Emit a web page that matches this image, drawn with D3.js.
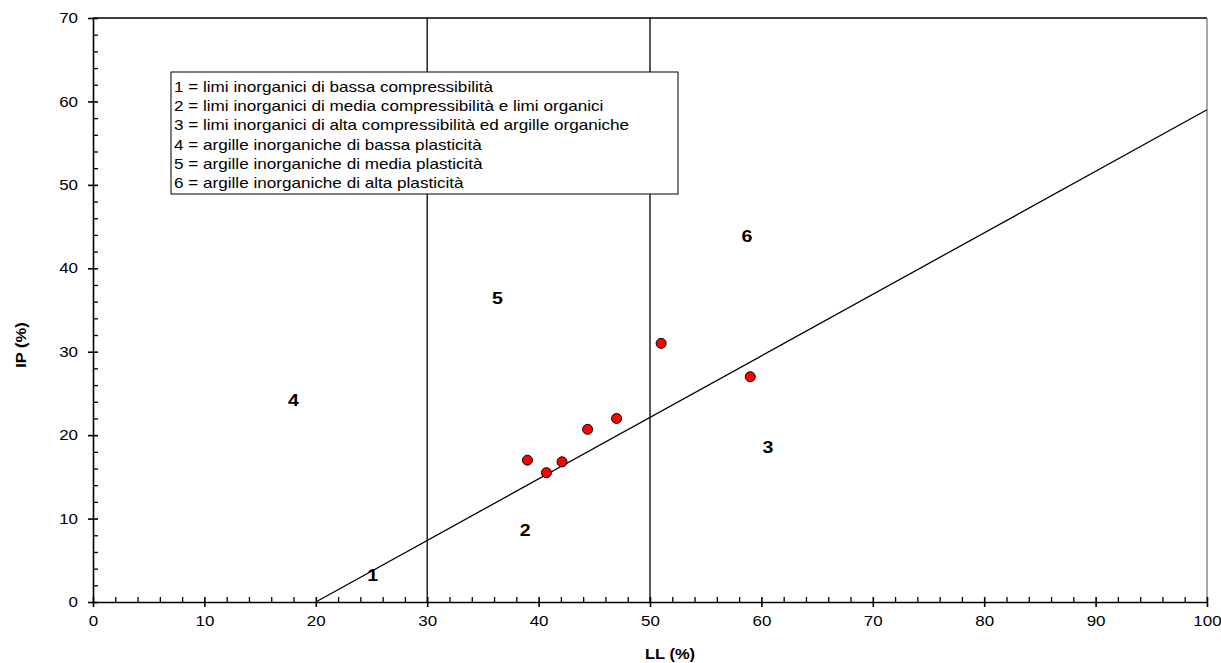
<!DOCTYPE html>
<html>
<head>
<meta charset="utf-8">
<script src="https://d3js.org/d3.v7.min.js"></script>
<style>
  body { margin: 0; background: #fff; }
  text { font-family: "Liberation Sans", Arial, sans-serif; }
</style>
</head>
<body>
<div id="chart"></div>
<script>
// data
var LL = [39, 40.7, 42.1, 44.4, 47, 51, 59];
var IP = [17, 15.5, 16.8, 20.7, 22, 31, 27];

var aLineLL = [20, 100];
var aLineIP = [0, 59];
var vLines = [30, 50];

var zoneNames = ["1", "2", "3", "4", "5", "6"];
var zoneLL = [25.1, 38.8, 60.6, 18, 36.3, 58.7];
var zoneIP = [3.2, 8.6, 18.6, 24.2, 36.4, 43.9];

var legendLines = [
  "1 = limi inorganici di bassa compressibilità",
  "2 = limi inorganici di media compressibilità e limi organici",
  "3 = limi inorganici di alta compressibilità ed argille organiche",
  "4 = argille inorganiche di bassa plasticità",
  "5 = argille inorganiche di media plasticità",
  "6 = argille inorganiche di alta plasticità"
];

var xTicks = d3.range(0, 101, 10);
var yTicks = d3.range(0, 71, 10);

var margin = {top: 18, right: 14, bottom: 61, left: 93},
    width = 1221 - margin.left - margin.right,
    height = 663 - margin.top - margin.bottom;

var svg = d3.select("#chart").append("svg")
    .attr("width", 1221)
    .attr("height", 663)
  .append("g")
    .attr("transform", "translate(" + margin.left + "," + margin.top + ")");

var x = d3.scaleLinear().domain([0, 100]).range([0, width]),
    y = d3.scaleLinear().domain([0, 70]).range([height, 0]);

// the original text is a bit wide, stretch it horizontally
function stretch(sel, k) {
  sel.each(function() {
    var L = this.getComputedTextLength();
    d3.select(this).attr("textLength", L * k).attr("lengthAdjust", "spacingAndGlyphs");
  });
}

// frame top / right
svg.append("line")
    .attr("x1", 0).attr("x2", width).attr("y1", 0).attr("y2", 0)
    .attr("stroke", "#000").attr("stroke-width", 1.3);
svg.append("line")
    .attr("x1", width).attr("x2", width).attr("y1", 0).attr("y2", height)
    .attr("stroke", "#777").attr("stroke-width", 1.3);

// vertical lines at LL=30, 50
svg.selectAll(".vline")
    .data(vLines)
    .enter().append("line")
      .attr("class", "vline")
      .attr("x1", function(d) { return x(d); })
      .attr("x2", function(d) { return x(d); })
      .attr("y1", 0).attr("y2", height)
      .attr("stroke", "#000").attr("stroke-width", 1.3);

// A line
svg.append("line")
    .attr("x1", x(aLineLL[0])).attr("y1", y(aLineIP[0]))
    .attr("x2", x(aLineLL[1])).attr("y2", y(aLineIP[1]))
    .attr("stroke", "#000").attr("stroke-width", 1.3);

// minor ticks
var minorX = d3.range(0, 101, 2).filter(function(d) { return d % 10; });
var minorY = d3.range(0, 71, 2).filter(function(d) { return d % 10; });

svg.append("g")
    .attr("class", "x-axis")
    .attr("transform", "translate(0," + height + ")")
    .call(d3.axisBottom(x).tickValues(minorX).tickSize(-5).tickFormat(""))
    .call(function(g) { g.select(".domain").remove(); });

svg.append("g")
    .attr("class", "y-axis")
    .call(d3.axisLeft(y).tickValues(minorY).tickSize(-5).tickFormat(""))
    .call(function(g) { g.select(".domain").remove(); });

svg.selectAll(".x-axis line, .y-axis line").attr("stroke-width", 1.3);

// major ticks (crossing)
var xAx = svg.append("g")
    .attr("transform", "translate(0," + height + ")")
    .call(d3.axisBottom(x).tickValues(xTicks).tickSize(5).tickSizeOuter(0).tickPadding(9));
xAx.selectAll(".tick line").attr("y1", -5).attr("stroke-width", 1.6);
xAx.select(".domain").attr("stroke-width", 1.6);
xAx.selectAll("text").attr("font-size", "14.5px").attr("fill", "#000")
    .style("font-family", "Liberation Sans, Arial, sans-serif")
    .call(stretch, 1.17);

var yAx = svg.append("g")
    .call(d3.axisLeft(y).tickValues(yTicks).tickSize(5).tickSizeOuter(0).tickPadding(10));
yAx.selectAll(".tick line").attr("x1", 5).attr("stroke-width", 1.6);
yAx.select(".domain").attr("stroke-width", 1.6);
yAx.selectAll("text").attr("font-size", "14.5px").attr("fill", "#000")
    .style("font-family", "Liberation Sans, Arial, sans-serif")
    .call(stretch, 1.17);

// points
svg.selectAll(".dot")
    .data(LL.map(function(d, i) { return [d, IP[i]]; }))
    .enter().append("circle")
      .attr("class", "dot")
      .attr("cx", function(d) { return x(d[0]); })
      .attr("cy", function(d) { return y(d[1]); })
      .attr("r", 5)
      .attr("fill", "#ff0000")
      .attr("stroke", "#000")
      .attr("stroke-width", 1);

// zone labels
svg.selectAll(".zone")
    .data(zoneNames)
    .enter().append("text")
      .attr("class", "zone")
      .attr("x", function(d, i) { return x(zoneLL[i]); })
      .attr("y", function(d, i) { return y(zoneIP[i]); })
      .attr("dy", "0.35em")
      .attr("text-anchor", "middle")
      .attr("font-size", "17px")
      .attr("font-weight", "bold")
      .text(function(d) { return d; })
      .call(stretch, 1.15);

// legend box
var leg = svg.append("g")
    .attr("transform", "translate(" + (171 - margin.left) + "," + (72 - margin.top) + ")");
leg.append("rect")
    .attr("width", 507).attr("height", 122)
    .attr("fill", "#fff").attr("stroke", "#000").attr("stroke-width", 1);
leg.selectAll("text")
    .data(legendLines)
    .enter().append("text")
      .attr("x", 3)
      .attr("y", function(d, i) { return 15 + i * 19.2; })
      .attr("dy", "0.35em")
      .attr("font-size", "14.5px")
      .text(function(d) { return d; })
      .call(stretch, 1.18);

// axis titles
svg.append("text")
    .attr("x", 670 - margin.left)
    .attr("y", 659 - margin.top)
    .attr("text-anchor", "middle")
    .attr("font-size", "15px")
    .attr("font-weight", "bold")
    .text("LL (%)")
    .call(stretch, 1.1);

svg.append("text")
    .attr("transform", "translate(" + (26 - margin.left) + "," + (345 - margin.top) + ") rotate(-90)")
    .attr("text-anchor", "middle")
    .attr("font-size", "15px")
    .attr("font-weight", "bold")
    .text("IP (%)")
    .call(stretch, 1.1);
</script>
</body>
</html>
